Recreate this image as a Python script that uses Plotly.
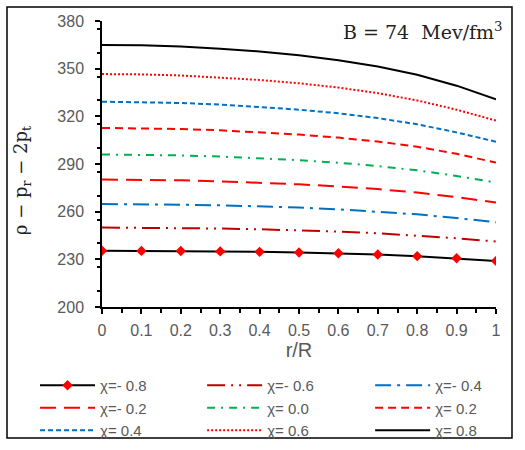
import plotly.graph_objects as go

r = [0, 0.1, 0.2, 0.3, 0.4, 0.5, 0.6, 0.7, 0.8, 0.9, 1.0]

chi_labels = ["χ=- 0.8", "χ=- 0.6", "χ=- 0.4", "χ=- 0.2", "χ= 0.0",
              "χ= 0.2", "χ= 0.4", "χ= 0.6", "χ= 0.8"]

v_m08 = [235.4, 235.3, 235.2, 235.0, 234.7, 234.3, 233.8, 233.0, 232.0, 230.7, 229.0]
v_m06 = [250.0, 249.9, 249.7, 249.4, 248.9, 248.3, 247.5, 246.4, 245.0, 243.3, 241.2]
v_m04 = [264.8, 264.7, 264.4, 264.0, 263.4, 262.6, 261.5, 260.1, 258.3, 256.0, 253.3]
v_m02 = [280.2, 280.1, 279.7, 279.1, 278.3, 277.2, 275.9, 274.2, 272.0, 269.2, 265.7]
v_00 = [296.0, 295.8, 295.4, 294.7, 293.7, 292.4, 290.8, 288.7, 286.0, 282.5, 278.3]
v_p02 = [312.7, 312.5, 312.0, 311.2, 310.0, 308.5, 306.6, 304.1, 300.9, 296.4, 290.9]
v_p04 = [329.2, 329.0, 328.4, 327.4, 326.0, 324.2, 321.9, 318.9, 315.0, 309.9, 304.0]
v_p06 = [346.6, 346.4, 345.7, 344.5, 342.9, 340.8, 338.1, 334.6, 330.0, 324.2, 317.3]
v_p08 = [364.9, 364.7, 363.9, 362.6, 360.8, 358.4, 355.3, 351.3, 346.2, 339.3, 330.7]

series = [v_m08, v_m06, v_m04, v_m02, v_00, v_p02, v_p04, v_p06, v_p08]
colors = ["#000000", "#C00000", "#0070C0", "#FF0000", "#00B050",
          "#FF0000", "#0070C0", "#FF0000", "#000000"]
dashes = ["solid", "18px,6px,2px,6px,2px,6px", "16px,6px,3px,6px", "16px,8px",
          "8px,6px,2px,6px", "8px,5px", "5px,3px", "2px,2px", "solid"]
legend_ids = ["legend", "legend2", "legend3"] * 3

fig = go.Figure()
for i, (lab, vals) in enumerate(zip(chi_labels, series)):
    if i == 0:
        kw = dict(mode="lines+markers",
                  marker=dict(symbol="diamond", size=8, color="#FF0000"))
    else:
        kw = dict(mode="lines")
    fig.add_trace(go.Scatter(x=r, y=vals, name=lab, legend=legend_ids[i],
                             line=dict(color=colors[i], width=2, dash=dashes[i]),
                             **kw))

axis_font = dict(family="Liberation Sans, Arial, sans-serif", size=16, color="#595959")
leg_font = dict(family="Liberation Sans, Arial, sans-serif", size=15, color="#595959")


def leg(x):
    return dict(orientation="v", xref="container", yref="container",
                x=x, y=0.18, xanchor="left", yanchor="top",
                font=leg_font, tracegroupgap=0, itemwidth=55,
                bgcolor="rgba(0,0,0,0)")


fig.update_layout(
    width=525, height=450,
    margin=dict(l=102, r=29, t=21, b=143, autoexpand=False),
    paper_bgcolor="white", plot_bgcolor="white",
    showlegend=True,
    legend=leg(0.0667),
    legend2=leg(0.385),
    legend3=leg(0.705),
    xaxis=dict(range=[0, 1], dtick=0.1, tick0=0, showgrid=False, zeroline=False,
               showline=True, linecolor="black", linewidth=1.5,
               ticks="outside", ticklen=5, tickcolor="black", tickwidth=1.5,
               tickfont=axis_font, ticklabelstandoff=3,
               minor=dict(dtick=0.05, ticks="outside", ticklen=4, tickcolor="black", tickwidth=1.5),
               title=dict(text="r/R", font=dict(family="Liberation Sans, Arial, sans-serif", size=20, color="#595959"), standoff=2)),
    yaxis=dict(range=[200, 380], dtick=30, tick0=200, showgrid=False, zeroline=False,
               showline=True, linecolor="black", linewidth=1.5,
               ticks="outside", ticklen=5, tickcolor="black", tickwidth=1.5,
               tickfont=axis_font, ticklabelstandoff=8,
               minor=dict(dtick=15, ticks="outside", ticklen=3, tickcolor="black", tickwidth=1.5)),
    shapes=[dict(type="rect", xref="paper", yref="paper",
                 x0=-0.2411, x1=1.0406, y0=-0.458, y1=1.049,
                 line=dict(color="black", width=1.5), fillcolor="rgba(0,0,0,0)")],
    annotations=[
        dict(text="B = 74  Mev/fm<sup>3</sup>", xref="paper", yref="paper",
             x=1.023, y=0.965, xanchor="right", yanchor="middle", showarrow=False,
             font=dict(family="DejaVu Serif, serif", size=19, color="#222222")),
        dict(text="ρ − p<sub>r</sub> − 2p<sub>t</sub>", xref="paper", yref="paper",
             x=-0.203, y=0.44, xanchor="center", yanchor="middle", textangle=-90,
             showarrow=False,
             font=dict(family="DejaVu Serif, serif", size=18, color="#222222")),
    ],
)

fig.write_html("out.html")
